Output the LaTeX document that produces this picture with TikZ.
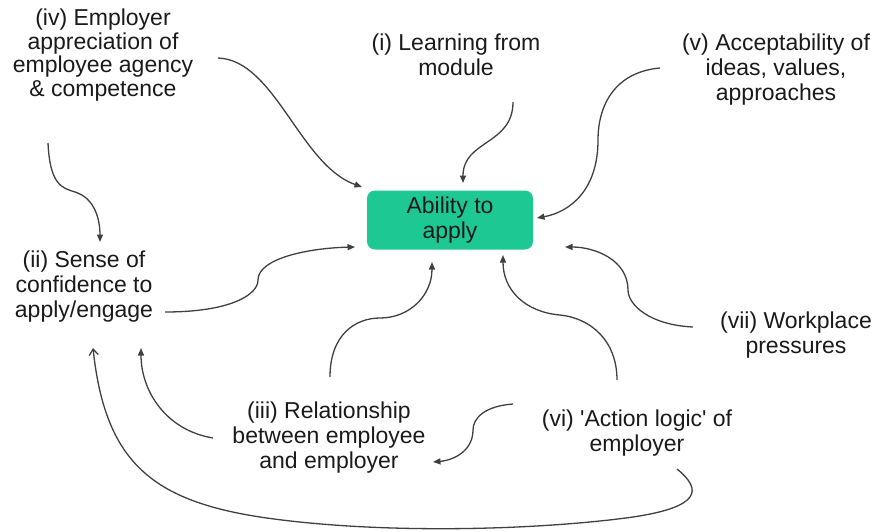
\documentclass[tikz,border=0pt]{standalone}
\usepackage{fontspec}
\setmainfont{Liberation Sans}
\usepackage{tikz}
\usetikzlibrary{positioning}
\usetikzlibrary{calc}
\usetikzlibrary{arrows.meta}
\usepackage{xcolor}

\definecolor{boxgreen}{RGB}{29,200,147}
\definecolor{inkgray}{RGB}{26,26,26}

\tikzset{
  factor/.style={align=center, inner sep=0pt, text=inkgray, font=\fontsize{23}{25}\selectfont},
  link/.style={draw=black!75, line width=1.3pt, -{Triangle[length=7.5pt,width=6pt]}},
  openlink/.style={draw=black!75, line width=1.3pt, -{Straight Barb[length=6pt,width=9pt]}}
}

\begin{document}
\begin{tikzpicture}[x=1pt,y=-1pt]

\useasboundingbox (0,0) rectangle (875,531);

% nodes
{
\node[fill=boxgreen, rounded corners=8pt, minimum width=166pt, minimum height=59pt, factor] (ability) at (450,220) {Ability to\\apply};

\node[factor, font=\fontsize{23}{23.5}\selectfont] (iv) at (103,55) {(iv) Employer\\appreciation of\\employee agency\\\& competence};
\node[factor] (i) at (456,55) {(i) Learning from\\module};
\node[factor] (v) at (776,70) {(v) Acceptability of\\ideas, values,\\approaches};
\node[factor] (ii) at (84,287) {(ii) Sense of\\confidence to\\apply/engage};
\node[factor] (vii) at (796,335) {(vii) Workplace\\pressures};
\node[factor] (iii) at (329,438) {(iii) Relationship\\between employee\\and employer};
\node[factor] (vi) at (637,433) {(vi) \textquotesingle Action logic\textquotesingle\ of\\employer};
}

% arrows into the box
{
\draw[link] ($(iv)+(115,3)$) .. controls +(57,2) and +(-62,-22) .. ($(ability)+(-88,-33)$);

\draw[link] ($(i)+(57,47)$) .. controls +(0,43) and +(0,-43) .. ($(ability)+(13,-37)$);

\draw[link] ($(v)+(-116,-2)$) .. controls +(-45,4) and +(0,-35) .. ($(ability)+(148,-80)$)
  .. controls +(0,50) and +(33,-6) .. ($(ability)+(87,-2)$);

\draw[link] ($(ii)+(81,25)$) .. controls +(65,0) and +(0,15) .. ($(ii)+(174,-7)$)
  .. controls +(0,-22) and +(-45,1) .. ($(ability)+(-95,27)$);

\draw[link] ($(iii)+(1,-61)$) .. controls +(0,-42) and +(-25,0) .. ($(iii)+(51,-120)$)
  .. controls +(30,0) and +(0,33) .. ($(ability)+(-18,42)$);

\draw[link] ($(vi)+(-20,-53)$) .. controls +(0,-40) and +(30,3) .. ($(vi)+(-77,-118)$)
  .. controls +(-35,-3) and +(0,35) .. ($(ability)+(53,35)$);

\draw[link] ($(vii)+(-103,-8)$) .. controls +(-43,-2) and +(0,15) .. ($(vii)+(-168,-45)$)
  .. controls +(0,-30) and +(30,0) .. ($(ability)+(115,27)$);
}

% arrows between the factors
{
\draw[link] ($(iv)+(-55,88)$) .. controls +(2,42) and +(-13,-4) .. ($(ii)+(-9,-95)$)
  .. controls +(20,6) and +(0,-22) .. ($(ii)+(16,-45)$);

\draw[link] ($(iii)+(-116,0)$) .. controls +(-48,-8) and +(0,42) .. ($(ii)+(57,61)$);

\draw[link] ($(vi)+(-124,-29)$) .. controls +(-28,2) and +(0,-12) .. ($(vi)+(-164,-3)$)
  .. controls +(0,20) and +(22,-2) .. ($(iii)+(104,24)$);

\draw[openlink] ($(vi)+(40,36)$) .. controls +(26,21) and +(67,-10) .. ($(vi)+(-4,84)$)
  .. controls +(-93,13) and +(120,18) .. ($(iii)+(-69,79)$)
  .. controls +(-110,-17) and +(12,112) .. ($(ii)+(9,61)$);
}

\end{tikzpicture}
\end{document}
